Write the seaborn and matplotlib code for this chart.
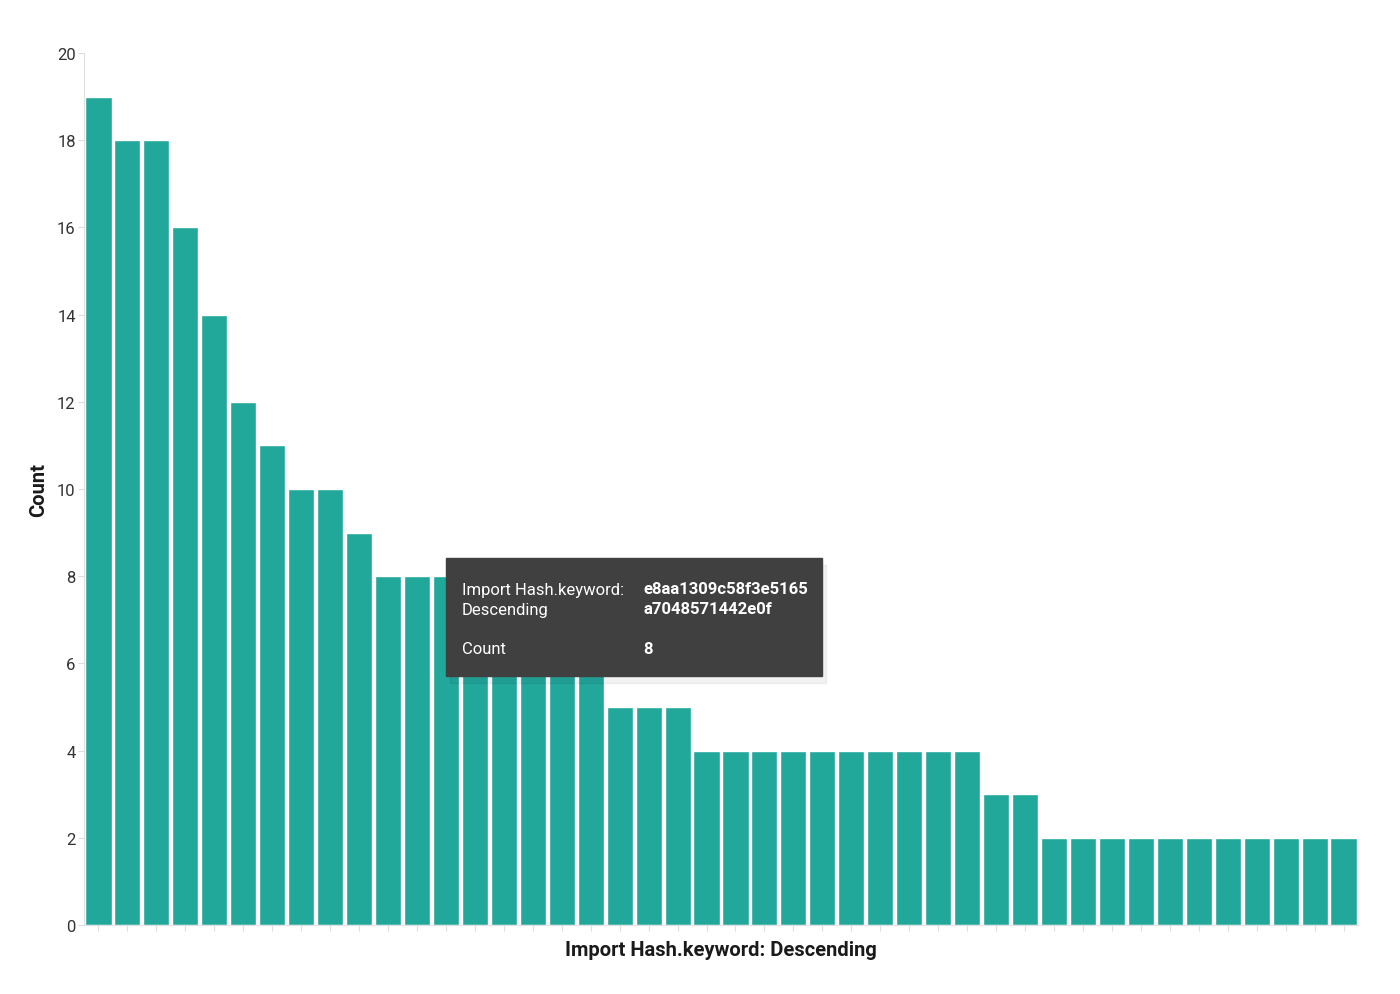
import matplotlib
matplotlib.use('Agg')
import matplotlib.pyplot as plt
from matplotlib.patches import Rectangle
import seaborn as sns
import pandas as pd

# counts per import hash, sorted descending (bars 14-18 hidden by tooltip, estimated)
counts = [19, 18, 18, 16, 14, 12, 11, 10, 10, 9,
          8, 8, 8, 8, 7, 6, 6, 6, 5, 5,
          5, 4, 4, 4, 4, 4, 4, 4, 4, 4,
          4, 3, 3, 2, 2, 2, 2, 2, 2, 2,
          2, 2, 2, 2]
hashes = [f'hash_{i:02d}' for i in range(len(counts))]
y_ticks = [0, 2, 4, 6, 8, 10, 12, 14, 16, 18, 20]

tooltip_keys = ['Import Hash.keyword:', 'Descending', 'Count']
tooltip_vals = ['e8aa1309c58f3e5165', 'a7048571442e0f', '8']
tooltip_rows = [590, 610, 650]  # pixel rows of tooltip lines

df = pd.DataFrame({'hash': hashes, 'count': counts})

sns.set_theme(style='white')
plt.rcParams['font.family'] = ['Roboto', 'DejaVu Sans']

fig = plt.figure(figsize=(14, 9.95), dpi=100)
ax = fig.add_axes([0.06, 0.0693, 0.91, 0.8764])

sns.barplot(data=df, x='hash', y='count', color='#22A79B', saturation=1,
            width=0.9, ax=ax)

ax.set_xlim(-0.5, len(counts) - 0.5)
ax.set_ylim(0, 20)
ax.set_yticks(y_ticks)
ax.set_xticklabels([])
ax.tick_params(axis='y', labelsize=12, colors='#333333', length=4, width=0.8,
               color='#dddddd', left=True, pad=2)
ax.tick_params(axis='x', length=4, width=0.8, color='#dddddd', bottom=True)
for s in ['top', 'right']:
    ax.spines[s].set_visible(False)
for s in ['left', 'bottom']:
    ax.spines[s].set_color('#e0e0e0')
    ax.spines[s].set_linewidth(0.8)

ax.set_xlabel('Import Hash.keyword: Descending', fontsize=14.5, fontweight='bold',
              color='#1a1a1a', labelpad=3)
ax.set_ylabel('Count', fontsize=14.5, fontweight='bold', color='#1a1a1a', labelpad=6)

# tooltip overlay
W, H = 1400, 995
def fx(px):
    return px / W
def fy(py):
    return 1 - py / H

fig.patches.append(Rectangle((fx(450), fy(684)), fx(822) - fx(446), fy(559) - fy(677),
                             transform=fig.transFigure, color='#000000', alpha=0.05,
                             zorder=9))
fig.patches.append(Rectangle((fx(446), fy(677)), fx(822) - fx(446), fy(559) - fy(677),
                             transform=fig.transFigure, color='#404040', zorder=10))
for key, val, row in zip(tooltip_keys, tooltip_vals, tooltip_rows):
    fig.text(fx(462), fy(row), key, color='white', fontsize=12, va='center', zorder=11)
    fig.text(fx(643), fy(row), val, color='white', fontsize=12, va='center',
             fontweight='bold', zorder=11)

fig.savefig('out.png', dpi=100)
